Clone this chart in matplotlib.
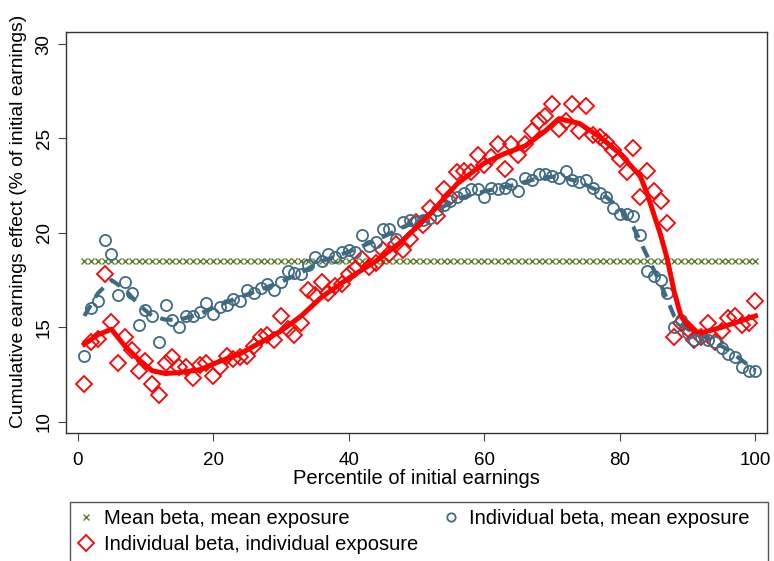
import matplotlib
matplotlib.use("Agg")
import matplotlib.pyplot as plt
from matplotlib.patches import Rectangle

plt.rcParams["font.family"] = ["Liberation Sans", "DejaVu Sans"]

percentile = list(range(1, 101))

mean_beta = [18.5] * 100

indiv_beta_mean_exp = [
    13.5, 16.0, 16.4, 19.6, 18.9, 16.7, 17.4, 16.8, 15.1, 15.9,
    15.6, 14.2, 16.2, 15.4, 15.0, 15.6, 15.6, 15.8, 16.3, 15.7,
    16.1, 16.2, 16.5, 16.4, 17.0, 16.8, 17.1, 17.3, 17.0, 17.4,
    18.0, 17.9, 17.8, 18.3, 18.7, 18.5, 18.9, 18.7, 19.0, 19.1,
    19.0, 19.9, 19.3, 19.5, 20.2, 20.2, 19.7, 20.6, 20.7, 20.6,
    20.7, 20.8, 21.2, 21.5, 21.7, 21.9, 22.1, 22.3, 22.3, 21.9,
    22.4, 22.3, 22.4, 22.6, 22.2, 22.9, 22.8, 23.1, 23.1, 23.0,
    22.9, 23.3, 22.8, 22.7, 22.8, 22.4, 22.1, 21.9, 21.3, 21.0,
    21.0, 20.9, 19.9, 18.0, 17.7, 17.5, 16.8, 15.0, 15.4, 14.7,
    14.3, 14.5, 14.3, 14.2, 13.9, 13.6, 13.4, 12.9, 12.7, 12.7,
]

indiv_beta_indiv_exp = [
    12.0, 14.2, 14.4, 17.8, 15.3, 13.1, 14.5, 13.8, 12.7, 13.2,
    12.0, 11.4, 13.1, 13.4, 12.9, 12.9, 12.3, 13.0, 13.1, 12.4,
    12.9, 13.5, 13.3, 13.4, 13.5, 14.0, 14.5, 14.6, 14.3, 15.6,
    14.9, 14.6, 15.2, 17.0, 16.7, 17.4, 16.8, 17.2, 17.3, 17.8,
    18.1, 18.6, 18.2, 18.4, 19.1, 18.9, 19.4, 19.1, 19.7, 20.6,
    20.4, 21.3, 20.9, 22.3, 21.9, 23.2, 23.3, 23.2, 24.1, 23.6,
    24.0, 24.7, 23.4, 24.7, 24.1, 24.7, 25.4, 25.9, 26.2, 26.8,
    25.5, 25.9, 26.8, 25.4, 26.7, 25.2, 25.1, 24.8, 24.4, 23.9,
    23.2, 24.5, 21.9, 23.3, 22.2, 21.7, 20.5, 14.5, 15.2, 14.9,
    14.3, 14.5, 15.2, 14.2, 14.8, 15.5, 15.6, 15.1, 15.2, 16.4,
]

fit_mean_exp_x = [1, 3, 5, 7, 9, 11, 13, 15, 18, 21, 24, 27, 30, 33, 36, 40, 44,
                  48, 52, 56, 60, 64, 68, 71, 74, 77, 80, 82, 84, 86, 88, 90, 93, 96, 100]
fit_mean_exp_y = [15.6, 16.8, 17.5, 17.0, 16.2, 15.6, 15.4, 15.4, 15.7, 16.2, 16.6, 17.0,
                  17.4, 17.9, 18.5, 19.0, 19.6, 20.3, 21.0, 21.8, 22.2, 22.5, 22.9, 23.0,
                  22.7, 22.2, 21.3, 20.3, 18.8, 17.3, 15.6, 14.9, 14.4, 13.8, 12.7]

fit_indiv_exp_x = [1, 3, 5, 7, 9, 11, 13, 15, 18, 21, 24, 27, 30, 33, 36, 40, 44, 48, 52,
                   56, 60, 63, 66, 69, 71, 74, 77, 80, 83, 84, 85, 86, 87, 88, 89, 90,
                   91, 92, 95, 100]
fit_indiv_exp_y = [14.1, 14.6, 14.9, 14.0, 13.3, 12.7, 12.55, 12.6, 12.75, 13.2, 13.6,
                   14.2, 14.8, 15.6, 16.6, 17.6, 18.5, 19.6, 21.0, 22.6, 23.7, 24.2, 24.6,
                   25.4, 26.05, 25.8, 25.1, 24.2, 23.0, 22.1, 21.0, 19.9, 18.6, 16.9, 15.6,
                   15.1, 14.8, 14.7, 15.0, 15.6]

GREEN = "#5b7d2c"
BLUE = "#3f6a84"
RED = "#ff0000"

fig = plt.figure(figsize=(7.74, 5.61), dpi=100)
ax = fig.add_axes([66 / 774, 1 - 433 / 561, (767 - 66) / 774, (433 - 32) / 561])

ax.plot(percentile, mean_beta, linestyle="none", marker="x", markersize=4,
        markeredgewidth=1.0, color=GREEN, label="Mean beta, mean exposure")
ax.plot(percentile, indiv_beta_indiv_exp, linestyle="none", marker="D", markersize=8,
        markerfacecolor="none", markeredgecolor=RED, markeredgewidth=1.3,
        label="Individual beta, individual exposure")
ax.plot(percentile, indiv_beta_mean_exp, linestyle="none", marker="o", markersize=8,
        markerfacecolor="none", markeredgecolor=BLUE, markeredgewidth=1.3,
        label="Individual beta, mean exposure")
ax.plot(fit_mean_exp_x, fit_mean_exp_y, color=BLUE, linewidth=3.0,
        linestyle=(0, (3, 2.2)))
ax.plot(fit_indiv_exp_x, fit_indiv_exp_y, color=RED, linewidth=3.6)

ax.set_xlim(-1.7, 101.7)
ax.set_ylim(9.4, 30.64)
ax.set_xticks([0, 20, 40, 60, 80, 100])
ax.set_yticks([10, 15, 20, 25, 30])
ax.tick_params(axis="both", direction="out", length=6, color="#444444", labelsize=13.5)
ax.tick_params(axis="x", pad=8)
for lab in ax.get_yticklabels():
    lab.set_rotation(90)
    lab.set_va("center")
for s in ax.spines.values():
    s.set_color("#333333")
    s.set_linewidth(1.0)

ax.set_xlabel("Percentile of initial earnings", fontsize=14.5, labelpad=0)
ax.set_ylabel("Cumulative earnings effect (% of initial earnings)", fontsize=13.9)
ax.yaxis.set_label_coords(-0.055, 0.528)

# legend box (bottom edge falls off the canvas, as in the original)
fig.patches.append(Rectangle((70 / 774, -0.05), (768 - 70) / 774, 0.05 + 59 / 561,
                             transform=fig.transFigure, facecolor="none",
                             edgecolor="#555555", linewidth=1.0))

handles, labels = ax.get_legend_handles_labels()
leg = fig.legend(handles, labels, ncol=2, loc="upper left",
                 bbox_to_anchor=(76 / 774, 1 - 509 / 561),
                 fontsize=14.5, frameon=False, handlelength=1.0,
                 handletextpad=0.4, borderpad=0, borderaxespad=0,
                 labelspacing=0.35, columnspacing=1.1)
leg.legend_handles[2].set_markersize(6)

fig.savefig("out.png", dpi=100)
